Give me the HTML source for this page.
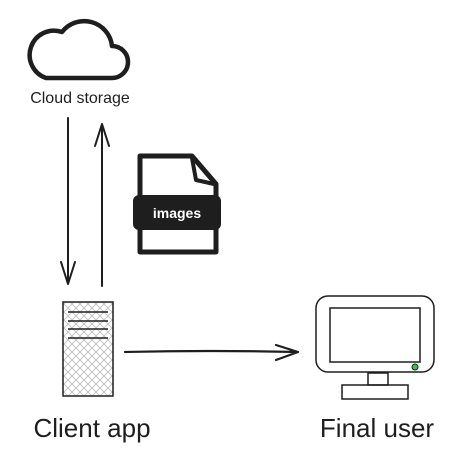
<!DOCTYPE html>
<html><head><style>
body{margin:0;background:#fff;width:453px;height:454px;overflow:hidden}
text{font-family:"Liberation Sans",sans-serif;fill:#1e1e1e}
</style></head><body>
<svg width="453" height="454" viewBox="0 0 453 454" xmlns="http://www.w3.org/2000/svg">
<defs><pattern id="h" width="8" height="8" patternUnits="userSpaceOnUse"><path d="M0 0L8 8M8 0L0 8" stroke="#bbb" stroke-width="0.8"/></pattern></defs>
<g fill="none" stroke="#1e1e1e" stroke-linecap="round" stroke-linejoin="round">
<path d="M46 78 H112 A16 16 0 0 0 112 46 A28 28 0 0 0 62 32 A18 18 0 0 0 46 78 Z" stroke-width="4.5"/>
<path d="M68 118 V284 M61 262 L68 284 L75 262" stroke-width="2"/>
<path d="M102 286 V124 M95 146 L102 124 L109 146" stroke-width="2"/>
<path d="M140 156 H192 L216 184 V252 H140 Z" stroke-width="5"/>
<path d="M192 158 L196 180 L214 184" stroke-width="4"/>
<path d="M125 352 Q210 350 298 352 M276 345 L298 352 L276 360" stroke-width="2.2"/>
</g>
<rect x="133" y="195" width="88" height="35" rx="6" fill="#1e1e1e"/>
<text x="177" y="218" font-size="14" font-weight="bold" text-anchor="middle" style="fill:#fff">images</text>
<rect x="63" y="302" width="50" height="94" fill="url(#h)" stroke="#1e1e1e" stroke-width="1.5"/>
<g stroke="#1e1e1e" stroke-width="1.5"><line x1="68" y1="312" x2="108" y2="312"/><line x1="68" y1="321" x2="108" y2="321"/><line x1="68" y1="329" x2="108" y2="329"/><line x1="68" y1="338" x2="108" y2="338"/></g>
<g fill="none" stroke="#1e1e1e" stroke-width="1.5">
<rect x="316" y="296" width="118" height="76" rx="12"/>
<rect x="330" y="308" width="90" height="54"/>
<rect x="368" y="373" width="20" height="12"/>
<rect x="342" y="385" width="66" height="14"/>
</g>
<circle cx="415" cy="367" r="3" fill="#2ecc40" stroke="#1e1e1e"/>
<text x="80" y="103" font-size="16" text-anchor="middle">Cloud storage</text>
<text x="92" y="437" font-size="26" text-anchor="middle">Client app</text>
<text x="377" y="437" font-size="26" text-anchor="middle">Final user</text>
</svg>
</body></html>
